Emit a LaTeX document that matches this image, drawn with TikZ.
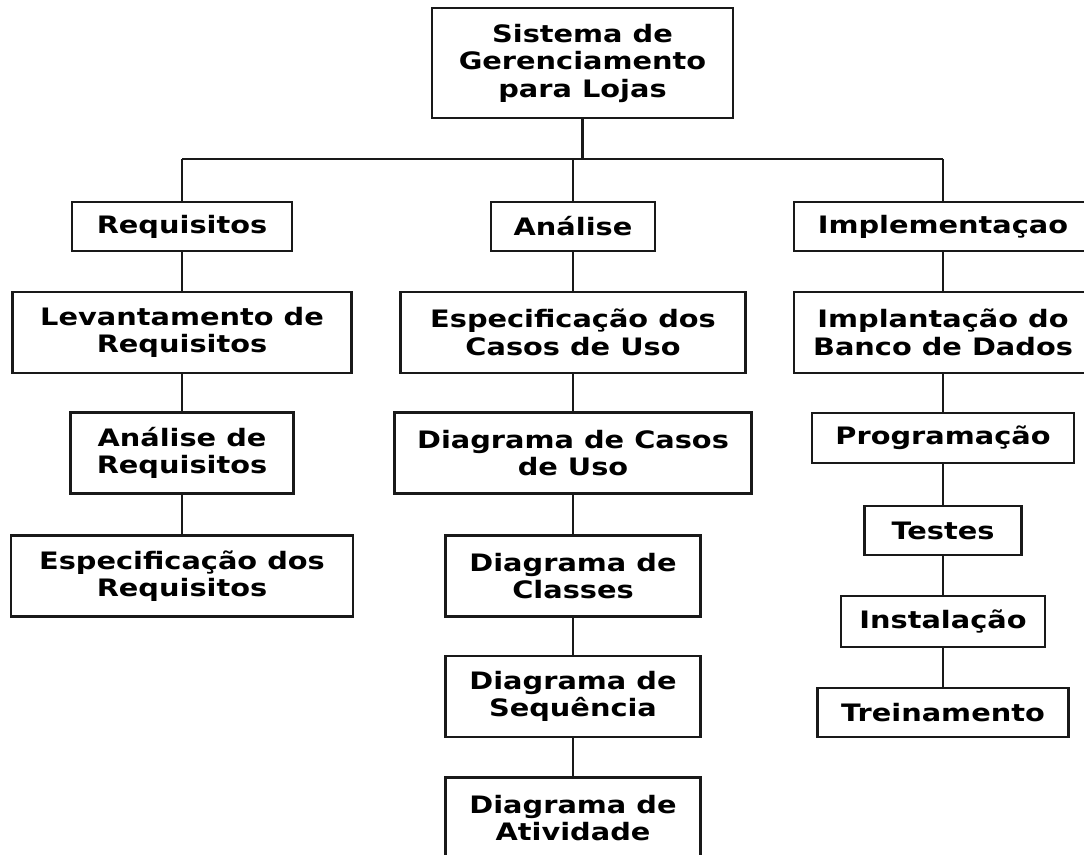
\documentclass[tikz,border=0pt]{standalone}
\usepackage{fontspec}
\newfontfamily\boxfont{DejaVu Sans}[FakeStretch=1.2]
\begin{document}
\begin{tikzpicture}[x=1pt,y=-1pt,
  line width=2.8pt,
  box/.style={draw=black!90, fill=white, inner sep=0pt, align=center,
    font=\boxfont\bfseries\fontsize{24}{27.5}\selectfont,
    minimum height=49pt},
  tall/.style={box, minimum height=81pt},
  link/.style={draw=black!90}]
\useasboundingbox (0,0) rectangle (1084,854);
\clip (0,0) rectangle (1084,854);

% root
\node[box, minimum width=301pt, minimum height=110pt] (root) at (582.5,63) {Sistema de\\Gerenciamento\\para Lojas};

% phases
\node[box, minimum width=220pt] (req)  at (182,226.5) {Requisitos};
\node[box, minimum width=164pt] (ana)  at (573,226.5) {Análise};
\node[box, minimum width=298pt] (impl) at (943,226.5) {Implementaçao};

% left column
\node[tall, minimum width=339pt] (lev)    at (182,332.5) {Levantamento de\\Requisitos};
\node[tall, minimum width=223pt] (anreq)  at (182,453)   {Análise de\\Requisitos};
\node[tall, minimum width=342pt] (espreq) at (182,576)   {Especificação dos\\Requisitos};

% middle column
\node[tall, minimum width=345pt] (espuso) at (573,332.5) {Especificação dos\\Casos de Uso};
\node[tall, minimum width=357pt] (dcuso)  at (573,453)   {Diagrama de Casos\\de Uso};
\node[tall, minimum width=255pt] (dclas)  at (573,576)   {Diagrama de\\Classes};
\node[tall, minimum width=255pt] (dseq)   at (573,696.5) {Diagrama de\\Sequência};
\node[tall, minimum width=255pt] (dativ)  at (573,818)   {Diagrama de\\Atividade};

% right column
\node[tall, minimum width=298pt] (bd)    at (943,332.5) {Implantação do\\Banco de Dados};
\node[box, minimum width=262pt, minimum height=50pt] (prog)  at (943,438) {Programação};
\node[box, minimum width=157pt] (test)  at (943,530.5) {Testes};
\node[box, minimum width=204pt, minimum height=51pt] (inst)  at (943,621.5) {Instalação};
\node[box, minimum width=251pt] (trein) at (943,712.5) {Treinamento};

% bus under the root
\coordinate (busL) at (182,159);
\coordinate (busR) at (943,159);
\draw[link] (busL) -- (busR);
\draw[link] (root.south) -- (root.south |- busL);
\draw[link] (req.north)  -- (req.north |- busL);
\draw[link] (ana.north)  -- (ana.north |- busL);
\draw[link] (impl.north) -- (impl.north |- busL);

% column chains
\draw[link] (req) -- (lev);
\draw[link] (lev) -- (anreq);
\draw[link] (anreq) -- (espreq);

\draw[link] (ana) -- (espuso);
\draw[link] (espuso) -- (dcuso);
\draw[link] (dcuso) -- (dclas);
\draw[link] (dclas) -- (dseq);
\draw[link] (dseq) -- (dativ);

\draw[link] (impl) -- (bd);
\draw[link] (bd) -- (prog);
\draw[link] (prog) -- (test);
\draw[link] (test) -- (inst);
\draw[link] (inst) -- (trein);
\end{tikzpicture}
\end{document}
